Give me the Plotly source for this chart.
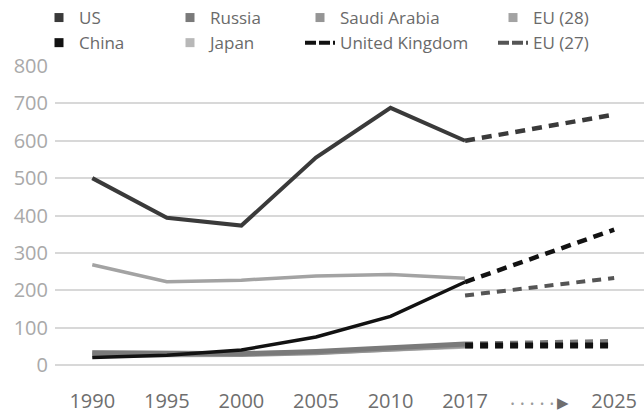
import plotly.graph_objects as go

# ---------------- data ----------------
categories = ["1990", "1995", "2000", "2005", "2010", "2017", "arrow", "2025"]
tick_labels = ["1990", "1995", "2000", "2005", "2010", "2017",
               "<span style='font-size:11px;fill:#9a9a9a'>•&nbsp;&nbsp;•&nbsp;&nbsp;•&nbsp;&nbsp;•&nbsp;&nbsp;•&nbsp;</span>"
               "<span style='font-size:15px'>▶</span>", "2025"]
hist_years = ["1990", "1995", "2000", "2005", "2010", "2017"]
proj_years = ["2017", "2025"]

us = [500, 394, 373, 555, 688, 600]
us_proj = [600, 670]
china = [20, 26, 40, 75, 130, 222]
china_proj = [222, 362]
eu28 = [268, 223, 227, 238, 242, 232]
eu27_proj = [186, 233]
russia = [33, 30, 30, 36, 45, 56]
russia_proj = [56, 63]
saudi = [27, 27, 28, 33, 42, 52]
saudi_proj = [52, 58]
japan = [32, 31, 31, 34, 42, 50]
japan_proj = [50, 55]
uk_proj = [52, 52]

y_ticks = [0, 100, 200, 300, 400, 500, 600, 700, 800]

# ---------------- styles ----------------
C_US = "#3a3a3a"
C_CHINA = "#121212"
C_RUSSIA = "#7a7a7a"
C_SAUDI = "#959595"
C_JAPAN = "#b8b8b8"
C_EU28 = "#a3a3a3"
C_EU27 = "#555555"
C_UK = "#111111"
FONT = "Open Sans"

fig = go.Figure()

def line(x, y, color, width, dash=None):
    fig.add_trace(go.Scatter(x=x, y=y, mode="lines", showlegend=False, hoverinfo="skip",
                             line=dict(color=color, width=width, dash=dash, shape="linear")))

# bottom band
line(hist_years, japan, C_JAPAN, 5)
line(hist_years, saudi, C_SAUDI, 5)
line(hist_years, russia, C_RUSSIA, 5)
line(proj_years, japan_proj, C_JAPAN, 5, "8px,7px")
line(proj_years, saudi_proj, C_SAUDI, 5, "8px,7px")
line(proj_years, russia_proj, C_RUSSIA, 5, "8px,7px")
line(proj_years, uk_proj, C_UK, 6, "8px,7px")
# EU
line(hist_years, eu28, C_EU28, 3.5)
line(proj_years, eu27_proj, C_EU27, 4, "9px,7px")
# China
line(hist_years, china, C_CHINA, 3.5)
line(proj_years, china_proj, C_CHINA, 4.5, "10px,7px")
# US
line(hist_years, us, C_US, 4)
line(proj_years, us_proj, C_US, 4.5, "10px,7px")

# legend-only entries (4 columns, 2 rows)
legend_items = [
    ("US", C_US, "square", "legend"),
    ("China", C_CHINA, "square", "legend"),
    ("Russia", C_RUSSIA, "square", "legend2"),
    ("Japan", C_JAPAN, "square", "legend2"),
    ("Saudi Arabia", C_SAUDI, "square", "legend3"),
    ("United Kingdom", C_UK, "dash", "legend3"),
    ("EU (28)", C_EU28, "square", "legend4"),
    ("EU (27)", C_EU27, "dash", "legend4"),
]
for name, color, kind, lg in legend_items:
    if kind == "square":
        fig.add_trace(go.Scatter(x=[None], y=[None], mode="markers", name=name, legend=lg,
                                 marker=dict(symbol="square", size=9, color=color)))
    else:
        fig.add_trace(go.Scatter(x=[None], y=[None], mode="lines", name=name, legend=lg,
                                 line=dict(color=color, width=4, dash="11px,3px")))

W, H = 644, 417
leg_common = dict(orientation="v", xref="container", yref="container", yanchor="top",
                  xanchor="left", y=1 + 4 / H, bgcolor="rgba(0,0,0,0)", tracegroupgap=0,
                  font=dict(family=FONT, size=17, color="#6a6a6a"), itemclick=False)
text_x = [79, 210, 340, 533]
fig.update_layout(
    legend=dict(x=(text_x[0] - 40) / W, **leg_common),
    legend2=dict(x=(text_x[1] - 40) / W, **leg_common),
    legend3=dict(x=(text_x[2] - 40) / W, **leg_common),
    legend4=dict(x=(text_x[3] - 40) / W, **leg_common),
)

fig.update_xaxes(type="category", categoryorder="array", categoryarray=categories,
                 tickvals=categories, ticktext=tick_labels, range=[-0.5, 7.4],
                 showgrid=False, zeroline=False, showline=False, ticks="",
                 ticklabelstandoff=22, automargin=False,
                 tickfont=dict(family=FONT, size=20, color="#6e6e6e"))
fig.update_yaxes(range=[0, 800], tickvals=y_ticks, showgrid=True, gridcolor="#d8d8d8",
                 gridwidth=1.5, zeroline=True, zerolinecolor="#d8d8d8", zerolinewidth=1.5,
                 ticks="", ticklabelstandoff=6, automargin=False,
                 tickfont=dict(family=FONT, size=20, color="#a9a9a9"))

fig.update_layout(width=W, height=H,
                  margin=dict(l=55, r=0, t=66, b=52, autoexpand=False),
                  paper_bgcolor="white", plot_bgcolor="white",
                  font=dict(family=FONT))

fig.write_html("out.html", config={"displayModeBar": False},
               post_script="document.body.style.margin='0';document.body.style.padding='0';")
